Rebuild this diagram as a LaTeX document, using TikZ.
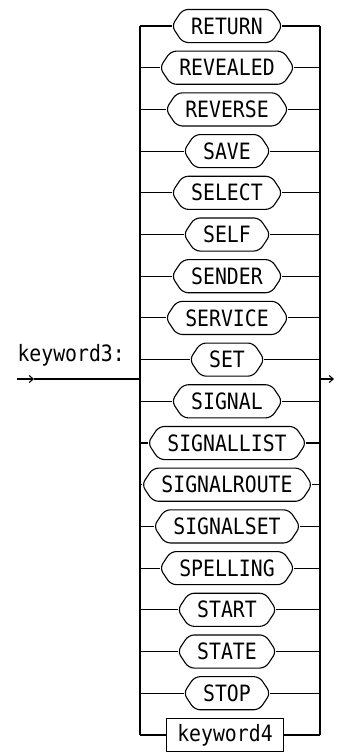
\documentclass[tikz,border=0pt]{standalone}
\usepackage{fontspec}
\setmonofont[FakeStretch=0.88]{DejaVu Sans Mono}
\usetikzlibrary{calc,arrows.meta}
\newcommand\kwfont{\ttfamily\fontsize{22.5}{22}\selectfont}
\begin{document}
\begin{tikzpicture}[x=1pt,y=-1pt, line width=1.1pt,
  kwtext/.style={inner xsep=19pt, inner ysep=0pt, minimum height=32pt, font=\kwfont},
  kwborder/.style={draw, rounded corners=5.5pt},
  ntbox/.style={draw, inner xsep=11pt, inner ysep=0pt, minimum height=33pt, font=\kwfont},
  tip/.style={-{Straight Barb[length=4pt,width=7pt]}}]
\useasboundingbox (0,0) rectangle (338,755);
\foreach \t [count=\i from 0] in {RETURN,REVEALED,REVERSE,SAVE,SELECT,SELF,SENDER,SERVICE,SET,SIGNAL,SIGNALLIST,SIGNALROUTE,SIGNALSET,SPELLING,START,STATE,STOP}{
  \pgfmathsetmacro\yy{26+41.7*\i}
  \node[kwtext] (k\i) at (227,\yy) {\t};
  \draw[kwborder] (k\i.west) -- ($(k\i.north west)+(11,0)$) -- ($(k\i.north east)+(-11,0)$) -- (k\i.east) -- ($(k\i.south east)+(-11,0)$) -- ($(k\i.south west)+(11,0)$) -- cycle;
  \coordinate (L\i) at (140,\yy);
  \coordinate (R\i) at (320,\yy);
  \draw (L\i) -- (k\i.west);
  \draw (k\i.east) -- (R\i);
}
\node[ntbox] (k17) at (225,735) {keyword4};
\coordinate (L17) at (140,735);
\coordinate (R17) at (320,735);
\draw (L17) -- (k17.west);
\draw (k17.east) -- (R17);
\draw (L0) -- (L17);
\draw (R0) -- (R17);
\node[anchor=west, font=\kwfont, inner sep=0pt] (lbl) at (17,355) {keyword3:};
\coordinate (in0) at (17,379);
\coordinate (inA) at (34,379);
\coordinate (inB) at (140,379);
\draw[tip] (in0) -- (inA);
\draw (inA) -- (inB);
\coordinate (outA) at (320,379);
\coordinate (outB) at (334,379);
\draw[tip] (outA) -- (outB);
\end{tikzpicture}
\end{document}
